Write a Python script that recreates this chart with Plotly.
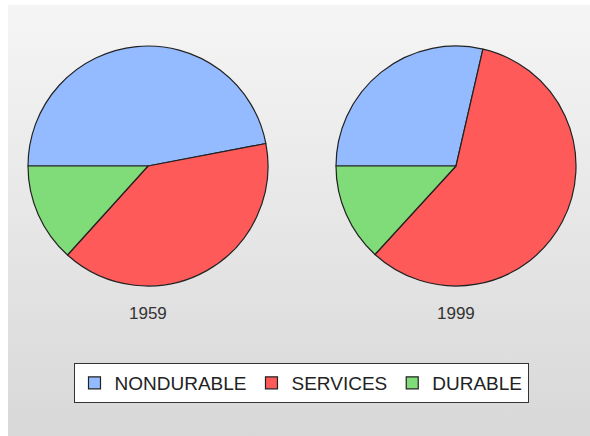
import base64
import plotly.graph_objects as go

# Share of personal consumption expenditure by type (percent)
categories = ["NONDURABLE", "SERVICES", "DURABLE"]
years = ["1959", "1999"]
share_1959 = [47.0, 39.7, 13.3]
share_1999 = [28.6, 58.2, 13.2]
colors = ["#94BBFF", "#FF5A5A", "#80DC78"]

W, H = 590, 436

# Gradient panel behind the pies
svg = (
    '<svg xmlns="http://www.w3.org/2000/svg" width="582" height="431">'
    '<defs><linearGradient id="g" x1="0" y1="0" x2="0" y2="1">'
    '<stop offset="0" stop-color="#F5F5F5"/>'
    '<stop offset="1" stop-color="#D8D8D8"/>'
    '</linearGradient></defs>'
    '<rect width="582" height="431" fill="url(#g)"/></svg>'
)
bg_src = "data:image/svg+xml;base64," + base64.b64encode(svg.encode()).decode()

def px_x(x):
    return x / W

def px_y(y):
    return 1 - y / H

pie_common = dict(
    labels=categories,
    sort=False,
    direction="clockwise",
    rotation=270,
    textinfo="none",
    hoverinfo="label+percent",
    marker=dict(colors=colors, line=dict(color="#222222", width=1.2)),
)

fig = go.Figure()
fig.add_trace(go.Pie(
    values=share_1959, name=years[0],
    domain=dict(x=[px_x(28), px_x(268)], y=[px_y(286), px_y(46)]),
    **pie_common,
))
fig.add_trace(go.Pie(
    values=share_1999, name=years[1],
    domain=dict(x=[px_x(336), px_x(576)], y=[px_y(286), px_y(46)]),
    **pie_common,
))

for yr, cx in zip(years, [148, 456]):
    fig.add_annotation(
        text=yr, x=px_x(cx), y=px_y(313), xref="paper", yref="paper",
        showarrow=False, xanchor="center", yanchor="middle",
        font=dict(family="Liberation Sans, Arial, sans-serif", size=17, color="#333333"),
    )

fig.update_layout(
    width=W, height=H,
    margin=dict(l=0, r=0, t=0, b=0),
    paper_bgcolor="white",
    plot_bgcolor="rgba(0,0,0,0)",
    images=[dict(
        source=bg_src, xref="paper", yref="paper",
        x=px_x(8), y=px_y(5), sizex=582 / W, sizey=431 / H,
        xanchor="left", yanchor="top", sizing="stretch", layer="below",
    )],
    showlegend=True,
    legend=dict(
        orientation="h",
        x=px_x(301), xanchor="center",
        y=px_y(363), yanchor="top",
        bgcolor="white", bordercolor="#333333", borderwidth=1,
        font=dict(family="Liberation Sans, Arial, sans-serif", size=19, color="#222222"),
        traceorder="normal",
    ),
)

fig.write_html("out.html")
